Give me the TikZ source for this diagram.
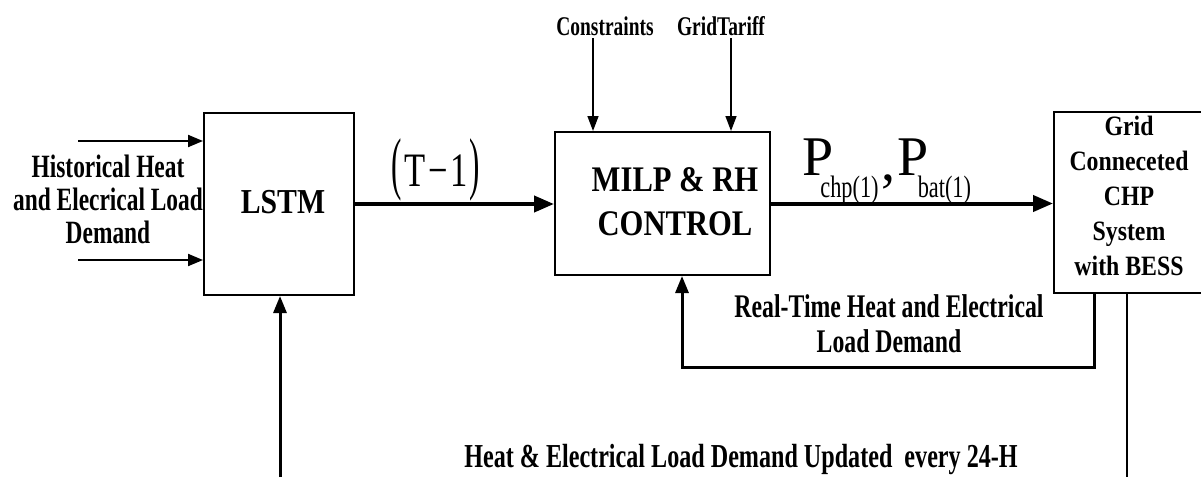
\documentclass[tikz,border=0pt]{standalone}
\usepackage{fontspec}
\setmainfont{Liberation Serif}[FakeStretch=0.72]
\newfontfamily\widefam{Liberation Serif}[FakeStretch=0.85]
\newfontfamily\plainserif{Liberation Serif}
\usetikzlibrary{arrows.meta}
\newcommand\fsz[2]{\fontsize{#1}{#2}\selectfont}
\begin{document}
\begin{tikzpicture}[x=1pt,y=-1pt,
  box/.style={draw, line width=2pt, inner sep=0pt, anchor=north west},
  lbl/.style={font=\bfseries\fsz{32.5}{33}, align=center, inner sep=0pt},
  boxlbl/.style={align=center, inner sep=0pt},
  thinarr/.style={line width=1.5pt, -{Triangle[length=15pt,width=11pt]}},
  midarr/.style={line width=2pt, -{Triangle[length=15pt,width=12pt]}},
  thickarr/.style={line width=4pt, -{Triangle[length=20pt,width=16pt]}},
  fbarr/.style={line width=3pt, -{Triangle[length=17pt,width=13pt]}},
]
\useasboundingbox (0,0) rectangle (1201,477);
\clip (0,0) rectangle (1201,477);

% boxes
\node[box, minimum width=150pt, minimum height=182pt] (lstm) at (203,112) {};
\node[box, minimum width=215pt, minimum height=143pt] (milp) at (554,131) {};
\node[box, minimum width=152pt, minimum height=181pt] (grid) at (1053,111) {};

% box texts
\node[boxlbl, font=\widefam\bfseries\fsz{35}{35}, anchor=base] (lstmtxt) at (283,213) {LSTM};
\node[boxlbl, font=\widefam\bfseries\fsz{36}{44}] (milptxt) at (675,202) {MILP \& RH\\CONTROL};
\node[boxlbl, font=\widefam\bfseries\fsz{28}{35}] (gridtxt) at (1129,195.5) {Grid\\Conneceted\\CHP\\System\\with BESS};

% outside labels
\node[lbl] (histtxt) at (108,199) {Historical Heat\\and Elecrical Load\\Demand};
\node[lbl, font=\bfseries\fsz{27}{27}, anchor=base] (constr) at (605,35) {Constraints};
\node[lbl, font=\bfseries\fsz{27}{27}, anchor=base] (tariff) at (721,35) {GridTariff};
\node[lbl, font=\bfseries\fsz{33}{35}] (rttxt) at (889,323.5) {Real-Time Heat and Electrical\\Load Demand};
\node[lbl, font=\bfseries\fsz{33.5}{35}, anchor=base] (updtxt) at (741,467) {Heat \& Electrical Load Demand Updated\ \ every 24-H};

\node[inner sep=0pt, anchor=base, font=\normalfont] (tlab) at (436,186)
  {\scalebox{0.45}[1]{\plainserif\fsz{69}{69}(}\hspace{2pt}{\fsz{48}{48}T\hspace{3pt}−\hspace{3pt}1}\hspace{2pt}\scalebox{0.45}[1]{\plainserif\fsz{69}{69})}};
\node[inner sep=0pt, anchor=base west, font=\normalfont] (plab) at (802,175)
  {{\plainserif\fsz{56}{56}P}\hspace{-13pt}\raisebox{-22pt}{\fsz{31}{31}chp(1)}\hspace{3pt}\raisebox{-5pt}{\plainserif\fsz{56}{56},}\hspace{2pt}{\plainserif\fsz{56}{56}P}\hspace{-11pt}\raisebox{-22pt}{\fsz{31}{31}bat(1)}};

% free ends
\coordinate (in1) at (78,141);
\coordinate (in2) at (78,260);
\coordinate (c1) at (593,38);
\coordinate (c2) at (731,38);
\coordinate (fbR) at (1094,367);
\coordinate (fbL) at (682,367);
\coordinate (lb) at (280,477);
\coordinate (rb) at (1127,477);

% connectors
\draw[midarr] (in1) -- (in1 -| lstm.west);
\draw[midarr] (in2) -- (in2 -| lstm.west);
\draw[thickarr] (lstm.east) -- (lstm.east -| milp.west);
\draw[thinarr] (c1) -- (c1 |- milp.north);
\draw[thinarr] (c2) -- (c2 |- milp.north);
\draw[thickarr] (milp.east) -- (milp.east -| grid.west);
\draw[fbarr] (fbR |- grid.south) -- (fbR) -- (fbL) -- (fbL |- milp.south);
\draw[fbarr] (lb) -- (lb |- lstm.south);
\draw[line width=2pt] (rb |- grid.south) -- (rb);
\end{tikzpicture}
\end{document}
